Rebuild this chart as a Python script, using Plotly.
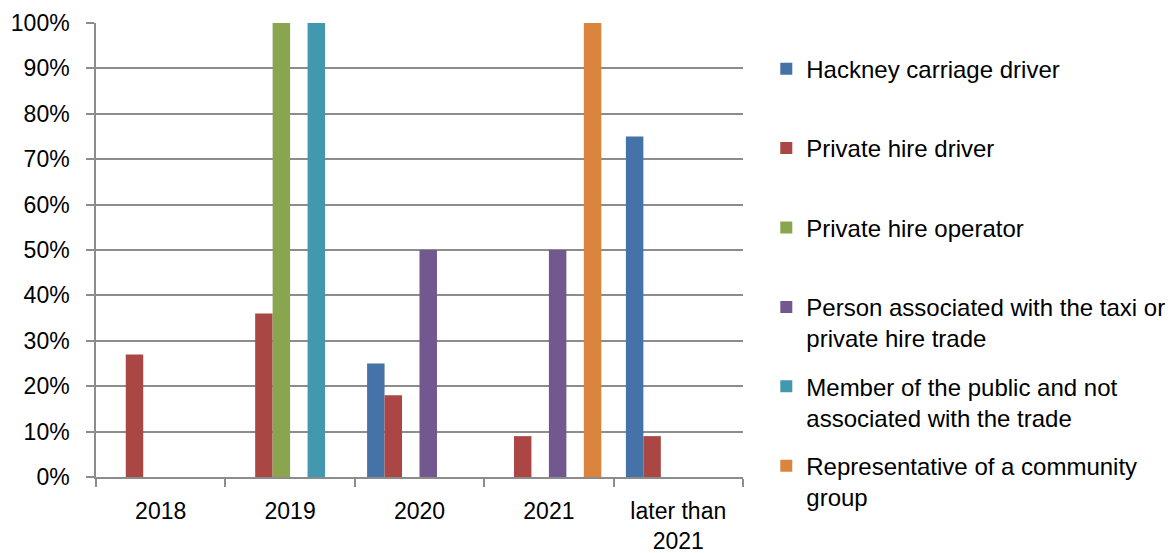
import plotly.graph_objects as go

categories = ["2018", "2019", "2020", "2021", "later than<br>2021"]
series_names = [
    "Hackney carriage driver",
    "Private hire driver",
    "Private hire operator",
    "Person associated with the taxi or<br>private hire trade",
    "Member of the public and not<br>associated with the trade",
    "Representative of a community<br>group",
]
hackney = [0, 0, 0.25, 0, 0.75]
ph_driver = [0.27, 0.36, 0.18, 0.09, 0.09]
ph_operator = [0, 1.0, 0, 0, 0]
person_assoc = [0, 0, 0.50, 0.50, 0]
public = [0, 1.0, 0, 0, 0]
community = [0, 0, 0, 1.0, 0]
colors = ["#4572A7", "#AA4643", "#89A54E", "#71588F", "#4198AF", "#DB843D"]

values = [hackney, ph_driver, ph_operator, person_assoc, public, community]

FONT = "Liberation Sans"
GRID = "#8C8C8C"

fig = go.Figure()
for i, (name, vals) in enumerate(zip(series_names, values)):
    label = name if "<br>" in name else name + "<br>\u00a0"
    fig.add_trace(go.Bar(
        x=categories, y=vals, name=label,
        marker=dict(color=colors[i], line=dict(width=0)),
        legendgroup=f"g{i}",
    ))

# page body has an 8px default margin, so the figure is drawn 8px in
fig.update_layout(
    width=1167, height=545,
    margin=dict(l=88, r=432, t=15, b=76, autoexpand=False),
    paper_bgcolor="white", plot_bgcolor="white",
    barmode="group", bargap=0.19, bargroupgap=0,
    font=dict(family=FONT, size=23, color="black"),
    legend=dict(
        x=1.036, xanchor="left", y=0.948, yanchor="top",
        valign="top", traceorder="grouped", tracegroupgap=14,
        font=dict(family=FONT, size=24, color="black"),
        maxheight=545,
    ),
    showlegend=True,
)
fig.update_xaxes(
    type="category", tickson="boundaries", ticks="outside", ticklen=8,
    tickcolor=GRID, tickwidth=1.5, showline=True, linecolor=GRID, linewidth=1.5,
    showgrid=False, ticklabelstandoff=13,
)
fig.update_yaxes(
    range=[0, 1], dtick=0.1, tickformat=".0%", showgrid=True, gridcolor=GRID,
    gridwidth=1.5, showline=True, linecolor=GRID, linewidth=1.5, ticks="outside",
    ticklen=8, tickcolor=GRID, tickwidth=1.5, zeroline=False, ticklabelstandoff=12,
)

fig.write_html("out.html")
